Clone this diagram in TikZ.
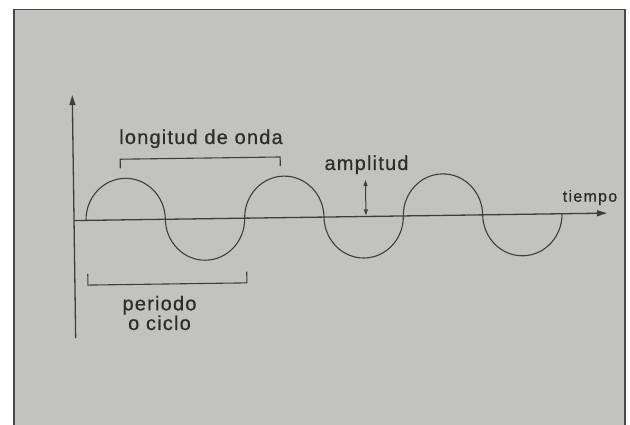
\documentclass[tikz,border=0pt]{standalone}
\usepackage{fontspec}
\setmainfont{Liberation Sans}
\newfontfamily\labfont[LetterSpace=6,FakeBold=0.6]{Liberation Sans}
\newfontfamily\smallfont[LetterSpace=8,FakeBold=0.6]{Liberation Sans}
\usetikzlibrary{arrows.meta}
\definecolor{paper}{RGB}{194,194,191}
\definecolor{ink}{RGB}{62,62,62}
\definecolor{framec}{RGB}{72,72,72}
\definecolor{textc}{RGB}{45,45,45}
\begin{document}
\begin{tikzpicture}[x=1pt,y=-1pt,
  line/.style={draw=ink, line width=1.1pt},
  axis/.style={draw=ink, line width=1.3pt, -{Triangle[length=10pt,width=6pt]}},
  ampl/.style={draw=ink, line width=1pt, {Triangle[length=6pt,width=4pt]}-{Triangle[length=6pt,width=4pt]}},
  lab/.style={text=textc, font=\labfont\fontsize{20}{18}\selectfont, inner sep=0pt, anchor=base},
  smalllab/.style={text=textc, font=\smallfont\fontsize{16}{16}\selectfont, inner sep=0pt, anchor=base}]
\useasboundingbox (0,0) rectangle (630,425);
\fill[white] (0,0) rectangle (630,425);
\fill[paper] (14,9.5) rectangle (625,426);
\draw[framec, line width=1.6pt] (14,427) -- (14,9.5) -- (625,9.5) -- (625,427);
\begin{scope}[rotate around={0.8:(330,217)}]
  \coordinate (yb) at (74,334.5);
  \coordinate (yt) at (74,91.5);
  \coordinate (xo) at (74,217);
  \coordinate (xe) at (607,217);
  \draw[axis] (yb) -- (yt);
  \draw[axis] (xo) -- (xe);
  % wave
  \coordinate (w0) at (86,217);
  \draw[line] (w0)
    arc[start angle=180, end angle=360, x radius=39.67, y radius=41.5]
    arc[start angle=180, end angle=0,   x radius=39.67, y radius=41.5]
    arc[start angle=180, end angle=360, x radius=39.67, y radius=41.5]
    arc[start angle=180, end angle=0,   x radius=39.67, y radius=41.5]
    arc[start angle=180, end angle=360, x radius=39.67, y radius=41.5]
    arc[start angle=180, end angle=0,   x radius=39.67, y radius=41.5];
  % top bracket
  \coordinate (tb1) at (121,165.5);
  \coordinate (tb2) at (281,165.5);
  \draw[line] (tb1) -- (121,156.3) -- (281,156.3) -- (tb2);
  % bottom bracket
  \coordinate (bb1) at (87,270.5);
  \coordinate (bb2) at (246,270.5);
  \draw[line] (bb1) -- (87,281.7) -- (246,281.7) -- (bb2);
  % amplitude arrow
  \coordinate (a1) at (366,180.5);
  \coordinate (a2) at (366,215.8);
  \draw[ampl] (a1) -- (a2);
\end{scope}
\node[lab] (lon) at (201,144) {longitud de onda};
\node[lab] (amp) at (366.5,170) {amplitud};
\node[smalllab] (tie) at (590,201.7) {tiempo};
\node[lab, align=center] (per) at (159.5,330) {periodo\\o ciclo};
\end{tikzpicture}
\end{document}
